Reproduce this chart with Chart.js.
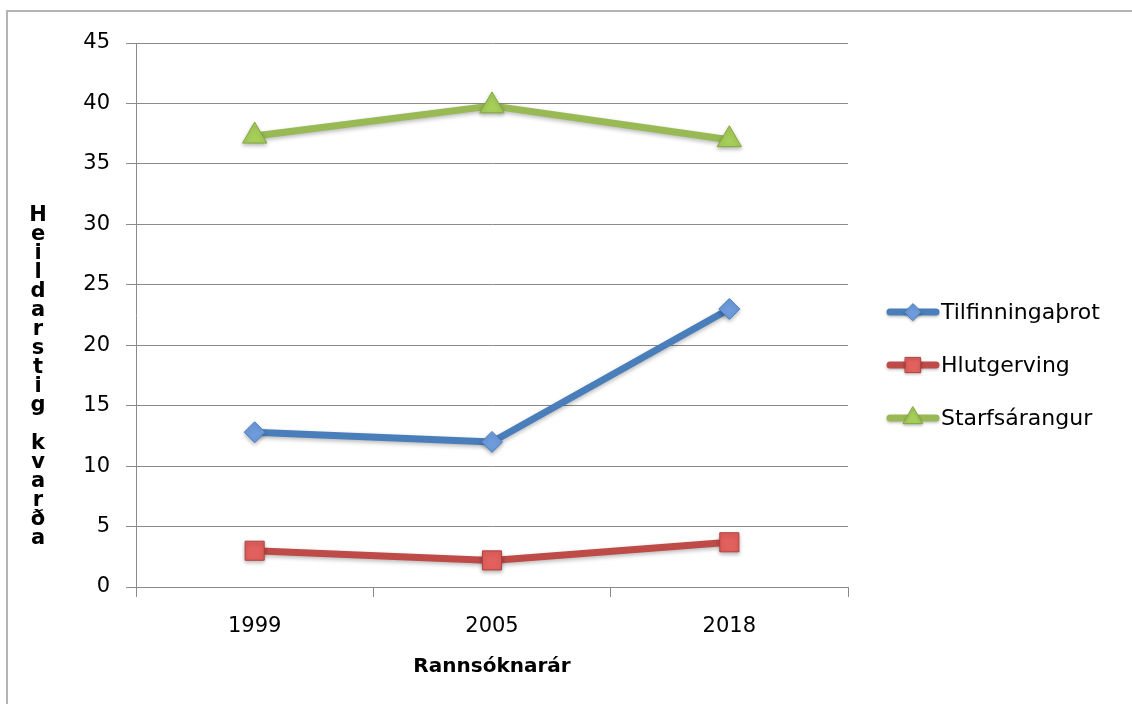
<!DOCTYPE html>
<html>
<head>
<meta charset="utf-8">
<script src="https://cdn.jsdelivr.net/npm/chart.js@4"></script>
<style>
  html, body { margin: 0; padding: 0; background: #fff; overflow: hidden; }
  #wrap { position: relative; width: 1132px; height: 704px; overflow: hidden; }
  .rule { position: absolute; background: #b4b4b4; }
  #ruleTop { left: 6px; top: 10px; width: 1126px; height: 2px; }
  #ruleLeft { left: 6px; top: 10px; width: 2px; height: 694px; }
  #chart { position: absolute; left: 0; top: 0; }
</style>
</head>
<body>
<div id="wrap">
  <div class="rule" id="ruleTop"></div>
  <div class="rule" id="ruleLeft"></div>
  <canvas id="chart" width="1132" height="704"></canvas>
</div>
<script>
// data
const years = ['1999', '2005', '2018'];
const tilfinningathrot = [12.8, 12.0, 23.0];
const hlutgerving = [3.0, 2.2, 3.7];
const starfsarangur = [37.3, 39.8, 37.0];
const seriesNames = ['Tilfinningaþrot', 'Hlutgerving', 'Starfsárangur'];
const yTitle = 'Heildarstig kvarða';
const xTitle = 'Rannsóknarár';

const FONT = "'DejaVu Sans', sans-serif";

// soft drop shadow under lines, like the old office charts
const shadowPlugin = {
    id: 'shadow',
    beforeDatasetsDraw(chart) {
        const ctx = chart.ctx;
        ctx.save();
        ctx.shadowColor = 'rgba(0,0,0,0.28)';
        ctx.shadowBlur = 4;
        ctx.shadowOffsetY = 2;
    },
    afterDatasetsDraw(chart) {
        chart.ctx.restore();
    }
};

// stacked letters for the y title
const yTitlePlugin = {
    id: 'yTitle',
    afterDraw(chart) {
        const ctx = chart.ctx;
        ctx.save();
        ctx.font = "bold 21px " + FONT;
        ctx.fillStyle = '#000';
        ctx.textAlign = 'center';
        ctx.textBaseline = 'middle';
        yTitle.split('').forEach((ch, i) => {
            ctx.fillText(ch, 38, 216 + i * 19);
        });
        ctx.restore();
    }
};

// legend with line + marker samples
const legendPlugin = {
    id: 'lineLegend',
    afterDraw(chart) {
        const ctx = chart.ctx;
        ctx.save();
        chart.data.datasets.forEach((ds, i) => {
            const y = 312 + i * 53;
            ctx.shadowColor = 'rgba(0,0,0,0.25)';
            ctx.shadowBlur = 3;
            ctx.shadowOffsetY = 1.5;
            ctx.strokeStyle = ds.borderColor;
            ctx.lineWidth = 7;
            ctx.lineCap = 'round';
            ctx.beginPath();
            ctx.moveTo(890, y);
            ctx.lineTo(936, y);
            ctx.stroke();
            ctx.fillStyle = ds.pointBackgroundColor;
            ctx.strokeStyle = ds.pointBorderColor;
            ctx.lineWidth = ds.pointBorderWidth;
            Chart.helpers.drawPoint(ctx, {
                pointStyle: ds.pointStyle,
                radius: ds.pointRadius * 0.8,
                rotation: 0,
                borderWidth: ds.pointBorderWidth
            }, 913, y);
            ctx.shadowColor = 'transparent';
            ctx.fillStyle = '#000';
            ctx.font = "22px " + FONT;
            ctx.textAlign = 'left';
            ctx.textBaseline = 'middle';
            ctx.fillText(ds.label, 941, y + 1);
        });
        ctx.restore();
    }
};

const ctx = document.getElementById('chart').getContext('2d');
new Chart(ctx, {
    type: 'line',
    data: {
        labels: years,
        datasets: [{
            label: seriesNames[0],
            data: tilfinningathrot,
            borderColor: '#4A7EBB',
            borderWidth: 7,
            pointStyle: 'rectRot',
            pointRadius: 10.5,
            pointBackgroundColor: '#6E9BDC',
            pointBorderColor: '#4A7EBB',
            pointBorderWidth: 1
        }, {
            label: seriesNames[1],
            data: hlutgerving,
            borderColor: '#BE4B48',
            borderWidth: 7,
            pointStyle: 'rect',
            pointRadius: 13.5,
            pointBackgroundColor: '#E2605D',
            pointBorderColor: '#B0413E',
            pointBorderWidth: 1
        }, {
            label: seriesNames[2],
            data: starfsarangur,
            borderColor: '#98B954',
            borderWidth: 7,
            pointStyle: 'triangle',
            pointRadius: 14,
            pointBackgroundColor: '#A6CF5A',
            pointBorderColor: '#86A83F',
            pointBorderWidth: 1
        }]
    },
    options: {
        responsive: false,
        animation: false,
        layout: { padding: { top: 43, right: 284, bottom: 0, left: 0 } },
        plugins: { legend: { display: false }, tooltip: { enabled: false } },
        elements: { line: { tension: 0, borderJoinStyle: 'round', borderCapStyle: 'round' } },
        scales: {
            x: {
                offset: true,
                afterFit: s => { s.height = 117; },
                grid: {
                    offset: true,
                    drawOnChartArea: false,
                    drawTicks: true,
                    tickLength: 10,
                    color: '#8a8a8a'
                },
                border: { color: '#8a8a8a', width: 1 },
                ticks: { color: '#000', font: { family: FONT, size: 21 }, padding: 17 },
                title: {
                    display: true,
                    text: xTitle,
                    color: '#000',
                    font: { family: FONT, size: 20, weight: 'bold' },
                    padding: { top: 10, bottom: 25 }
                }
            },
            y: {
                min: 0,
                max: 45,
                afterFit: s => { s.width = 136; },
                ticks: { stepSize: 5, color: '#000', font: { family: FONT, size: 21 }, padding: 16 },
                grid: { color: '#8a8a8a', lineWidth: 1, tickLength: 10 },
                border: { color: '#8a8a8a', width: 1 }
            }
        }
    },
    plugins: [shadowPlugin, yTitlePlugin, legendPlugin]
});
</script>
</body>
</html>
